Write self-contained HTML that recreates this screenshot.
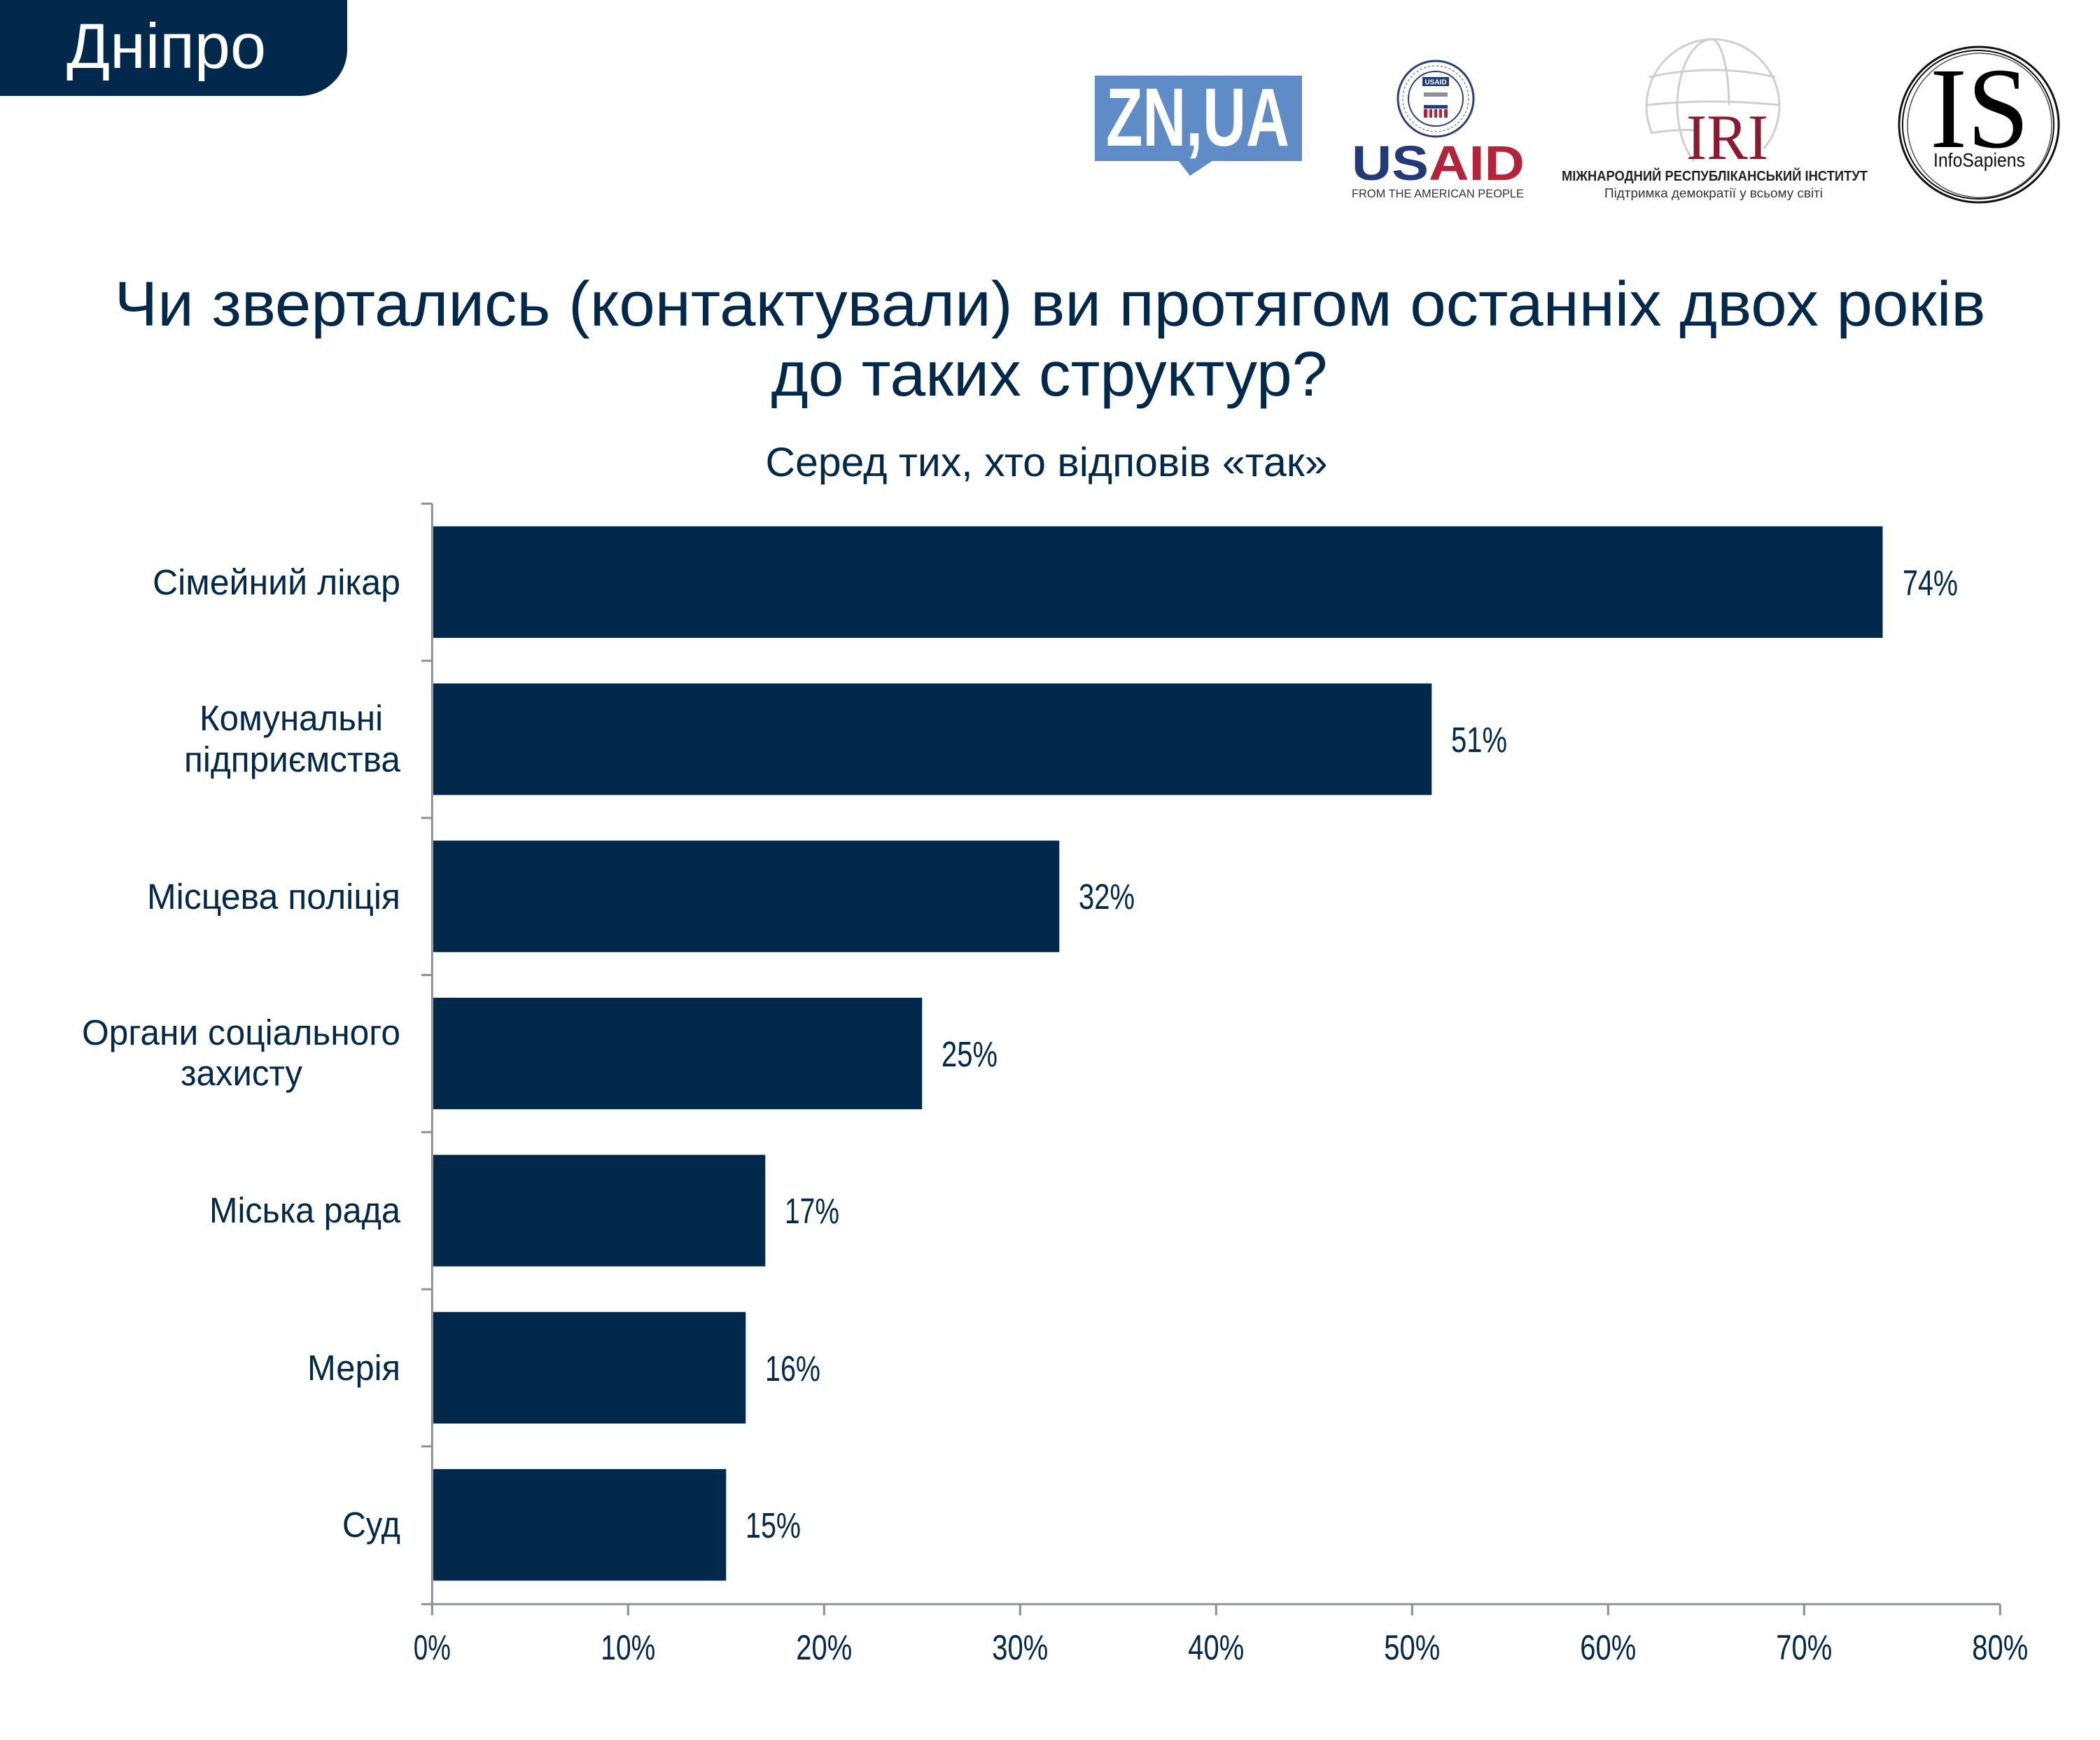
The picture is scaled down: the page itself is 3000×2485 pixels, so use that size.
<!DOCTYPE html>
<html>
<head>
<meta charset="utf-8">
<style>
  html,body{margin:0;padding:0;background:#fff;}
  svg{display:block;}
  text{font-family:"Liberation Sans","DejaVu Sans",sans-serif;}
</style>
</head>
<body>
<svg width="3000" height="2485" viewBox="0 0 3000 2485" xmlns="http://www.w3.org/2000/svg">
  <rect x="0" y="0" width="3000" height="2485" fill="#ffffff"/>

  <!-- Header tab -->
  <path d="M0 0 H496 V71 A68 66 0 0 1 428 137 H0 Z" fill="#02284b"/>
  <text x="95" y="97" font-size="91" fill="#ffffff" textLength="285" lengthAdjust="spacingAndGlyphs">Дніпро</text>

  <!-- ZN,UA logo -->
  <rect x="1564" y="108" width="296" height="122" fill="#5f8cc6"/>
  <polygon points="1683,229 1733,229 1700,251" fill="#5f8cc6"/>
  <text x="1580" y="208" font-size="118" font-weight="bold" fill="#ffffff" textLength="262" lengthAdjust="spacingAndGlyphs">ZN,UA</text>

  <!-- USAID seal -->
  <circle cx="2051" cy="141" r="54" fill="#ffffff" stroke="#2b3f7c" stroke-width="3"/>
  <circle cx="2051" cy="141" r="47" fill="none" stroke="#7a849e" stroke-width="1.5" stroke-dasharray="3 3"/>
  <circle cx="2051" cy="141" r="39" fill="#ffffff" stroke="#2b3f7c" stroke-width="2"/>
  <rect x="2032" y="110" width="38" height="13" fill="#253d7a"/>
  <text x="2051" y="120.5" font-size="10" font-weight="bold" fill="#ffffff" text-anchor="middle">USAID</text>
  <rect x="2034" y="132" width="34" height="6" fill="#8a8f99"/>
  <rect x="2034" y="150" width="34" height="5" fill="#253d7a"/>
  <rect x="2034" y="156" width="34" height="12" fill="#b3243b"/>
  <rect x="2039" y="156" width="3" height="12" fill="#fff"/>
  <rect x="2046" y="156" width="3" height="12" fill="#fff"/>
  <rect x="2053" y="156" width="3" height="12" fill="#fff"/>
  <rect x="2060" y="156" width="3" height="12" fill="#fff"/>
  <text x="1931" y="257" font-size="70" font-weight="bold" fill="#243a78" textLength="110" lengthAdjust="spacingAndGlyphs">US</text>
  <text x="2041" y="257" font-size="70" font-weight="bold" fill="#b3243b" textLength="137" lengthAdjust="spacingAndGlyphs">AID</text>
  <text x="1931" y="282" font-size="17" fill="#333333" textLength="246" lengthAdjust="spacingAndGlyphs">FROM THE AMERICAN PEOPLE</text>

  <!-- IRI logo -->
  <g fill="none" stroke="#cfcfcf" stroke-width="3">
    <path d="M2360 190 A96 96 0 0 1 2446 56 A96 96 0 0 1 2542 150 A96 96 0 0 1 2520 212"/>
    <path d="M2446 56 A50 96 0 0 0 2396 150 A50 96 0 0 0 2420 230"/>
    <path d="M2446 56 A25 96 0 0 1 2470 150"/>
    <path d="M2356 110 Q2446 90 2536 110"/>
    <path d="M2352 150 Q2446 140 2542 150"/>
    <path d="M2358 190 Q2400 184 2420 186"/>
  </g>
  <text x="2409" y="227" font-size="92" fill="#8b1a2f" textLength="117" lengthAdjust="spacingAndGlyphs" style="font-family:'Liberation Serif',serif">IRI</text>
  <text x="2231" y="258" font-size="20" font-weight="bold" fill="#222222" textLength="437" lengthAdjust="spacingAndGlyphs">МІЖНАРОДНИЙ РЕСПУБЛІКАНСЬКИЙ ІНСТИТУТ</text>
  <text x="2292" y="282" font-size="18" fill="#333333" textLength="312" lengthAdjust="spacingAndGlyphs">Підтримка демократії у всьому світі</text>

  <!-- InfoSapiens logo -->
  <ellipse cx="2827" cy="178" rx="114" ry="111" fill="#ffffff" stroke="#111" stroke-width="3"/>
  <ellipse cx="2826" cy="178" rx="108" ry="106" fill="none" stroke="#111" stroke-width="2"/>
  <ellipse cx="2828" cy="179" rx="103" ry="103" fill="none" stroke="#555" stroke-width="1.5"/>
  <text x="2757" y="210" font-size="165" fill="#000000" textLength="142" lengthAdjust="spacingAndGlyphs" style="font-family:'Liberation Serif',serif">IS</text>
  <text x="2762" y="238" font-size="28" fill="#111111" textLength="131" lengthAdjust="spacingAndGlyphs">InfoSapiens</text>

  <!-- Title -->
  <text x="1500" y="465" font-size="90" fill="#02284b" text-anchor="middle" textLength="2673" lengthAdjust="spacingAndGlyphs">Чи звертались (контактували) ви протягом останніх двох років</text>
  <text x="1499" y="565" font-size="90" fill="#02284b" text-anchor="middle" textLength="795" lengthAdjust="spacingAndGlyphs">до таких структур?</text>
  <text x="1495" y="680" font-size="58" fill="#02284b" text-anchor="middle" textLength="803" lengthAdjust="spacingAndGlyphs">Серед тих, хто відповів «так»</text>

  <!-- Bars -->
  <g fill="#02284b">
    <rect x="619" y="751.7" width="2070.5" height="159.3"/>
    <rect x="619" y="976.1" width="1426.3" height="159.3"/>
    <rect x="619" y="1200.5" width="894.3" height="159.3"/>
    <rect x="619" y="1424.9" width="698.3" height="159.3"/>
    <rect x="619" y="1649.3" width="474.3" height="159.3"/>
    <rect x="619" y="1873.7" width="446.3" height="159.3"/>
    <rect x="619" y="2098.1" width="418.3" height="159.3"/>
  </g>

  <!-- Axes -->
  <g stroke="#8c9099" stroke-width="3" fill="none">
    <line x1="617.3" y1="719.3" x2="617.3" y2="2291"/>
    <line x1="602" y1="2291" x2="2857.3" y2="2291"/>
    <line x1="602" y1="719.3" x2="617.3" y2="719.3"/>
    <line x1="602" y1="943.7" x2="617.3" y2="943.7"/>
    <line x1="602" y1="1168.1" x2="617.3" y2="1168.1"/>
    <line x1="602" y1="1392.5" x2="617.3" y2="1392.5"/>
    <line x1="602" y1="1616.9" x2="617.3" y2="1616.9"/>
    <line x1="602" y1="1841.3" x2="617.3" y2="1841.3"/>
    <line x1="602" y1="2065.7" x2="617.3" y2="2065.7"/>
    <line x1="617.3" y1="2291" x2="617.3" y2="2307"/>
    <line x1="897.3" y1="2291" x2="897.3" y2="2307"/>
    <line x1="1177.3" y1="2291" x2="1177.3" y2="2307"/>
    <line x1="1457.3" y1="2291" x2="1457.3" y2="2307"/>
    <line x1="1737.3" y1="2291" x2="1737.3" y2="2307"/>
    <line x1="2017.3" y1="2291" x2="2017.3" y2="2307"/>
    <line x1="2297.3" y1="2291" x2="2297.3" y2="2307"/>
    <line x1="2577.3" y1="2291" x2="2577.3" y2="2307"/>
    <line x1="2857.3" y1="2291" x2="2857.3" y2="2307"/>
  </g>

  <!-- Category labels -->
  <g font-size="51" fill="#02284b">
    <text x="572" y="849" text-anchor="end" textLength="354" lengthAdjust="spacingAndGlyphs">Сімейний лікар</text>
    <text x="416" y="1043" text-anchor="middle" textLength="262" lengthAdjust="spacingAndGlyphs">Комунальні</text>
    <text x="572" y="1102" text-anchor="end" textLength="309" lengthAdjust="spacingAndGlyphs">підприємства</text>
    <text x="572" y="1298" text-anchor="end" textLength="362" lengthAdjust="spacingAndGlyphs">Місцева поліція</text>
    <text x="572" y="1492" text-anchor="end" textLength="455" lengthAdjust="spacingAndGlyphs">Органи соціального</text>
    <text x="345" y="1550" text-anchor="middle" textLength="174" lengthAdjust="spacingAndGlyphs">захисту</text>
    <text x="572" y="1746" text-anchor="end" textLength="273" lengthAdjust="spacingAndGlyphs">Міська рада</text>
    <text x="572" y="1971" text-anchor="end" textLength="133" lengthAdjust="spacingAndGlyphs">Мерія</text>
    <text x="572" y="2195" text-anchor="end" textLength="83" lengthAdjust="spacingAndGlyphs">Суд</text>
  </g>

  <!-- Value labels -->
  <g font-size="51" fill="#02284b">
    <text x="2718" y="850" textLength="79" lengthAdjust="spacingAndGlyphs">74%</text>
    <text x="2073" y="1074" textLength="80" lengthAdjust="spacingAndGlyphs">51%</text>
    <text x="1541" y="1298" textLength="80" lengthAdjust="spacingAndGlyphs">32%</text>
    <text x="1345" y="1523" textLength="80" lengthAdjust="spacingAndGlyphs">25%</text>
    <text x="1121" y="1747" textLength="78" lengthAdjust="spacingAndGlyphs">17%</text>
    <text x="1093" y="1972" textLength="79" lengthAdjust="spacingAndGlyphs">16%</text>
    <text x="1065" y="2196" textLength="79" lengthAdjust="spacingAndGlyphs">15%</text>
  </g>

  <!-- X tick labels -->
  <g font-size="50" fill="#02284b" text-anchor="middle">
    <text x="617.3" y="2370" textLength="53" lengthAdjust="spacingAndGlyphs">0%</text>
    <text x="897.3" y="2370" textLength="78" lengthAdjust="spacingAndGlyphs">10%</text>
    <text x="1177.3" y="2370" textLength="80" lengthAdjust="spacingAndGlyphs">20%</text>
    <text x="1457.3" y="2370" textLength="80" lengthAdjust="spacingAndGlyphs">30%</text>
    <text x="1737.3" y="2370" textLength="80" lengthAdjust="spacingAndGlyphs">40%</text>
    <text x="2017.3" y="2370" textLength="80" lengthAdjust="spacingAndGlyphs">50%</text>
    <text x="2297.3" y="2370" textLength="80" lengthAdjust="spacingAndGlyphs">60%</text>
    <text x="2577.3" y="2370" textLength="80" lengthAdjust="spacingAndGlyphs">70%</text>
    <text x="2857.3" y="2370" textLength="80" lengthAdjust="spacingAndGlyphs">80%</text>
  </g>
</svg>
</body>
</html>
